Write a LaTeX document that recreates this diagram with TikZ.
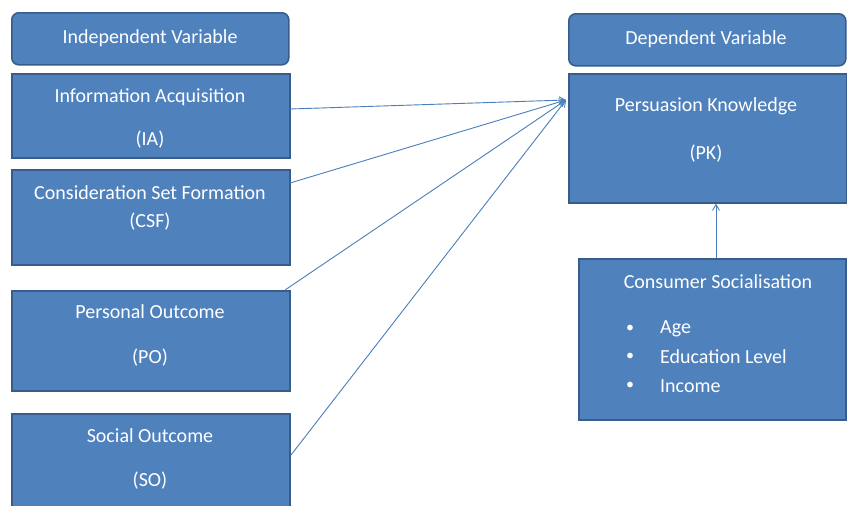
\documentclass[tikz,border=0pt]{standalone}
\usepackage{fontspec}
\setmainfont{Carlito}
\usetikzlibrary{arrows.meta}
\definecolor{boxfill}{HTML}{4F81BD}
\definecolor{boxline}{HTML}{385D8A}
\definecolor{arrowc}{HTML}{4A7EBB}
\tikzset{
  box/.style={draw=boxline, line width=1.6pt, fill=boxfill, anchor=north west, inner sep=0pt},
  rbox/.style={box, rounded corners=7pt},
  lbl/.style={text=white, font=\fontsize{20}{22}\selectfont, inner sep=0pt},
  conn/.style={draw=arrowc, line width=0.9pt, -{Straight Barb[length=6pt,width=7pt]}}
}
\begin{document}
\begin{tikzpicture}[x=1pt,y=-1pt]
\useasboundingbox (0,0) rectangle (847,506);
% left boxes
\node[rbox, minimum width=277pt, minimum height=52pt] (iv) at (11,12) {};
\node[lbl] (ivt) at (150,38) {Independent Variable};
\node[box, minimum width=278pt, minimum height=84pt] (ia) at (11,73) {};
\node[lbl] (iat) at (150,97) {Information Acquisition};
\node[lbl] (iaa) at (150,140) {(IA)};
\node[box, minimum width=278pt, minimum height=95pt] (csf) at (11,169) {};
\node[lbl] (csft) at (150,193) {Consideration Set Formation};
\node[lbl] (csfa) at (150,222) {(CSF)};
\node[box, minimum width=278pt, minimum height=100pt] (po) at (11,290) {};
\node[lbl] (pot) at (150,312) {Personal Outcome};
\node[lbl] (poa) at (150,358) {(PO)};
\node[box, minimum width=278pt, minimum height=95pt] (so) at (11,413) {};
\node[lbl] (sot) at (150,436) {Social Outcome};
\node[lbl] (soa) at (150,481) {(SO)};
% right boxes
\node[rbox, minimum width=277pt, minimum height=52pt] (dv) at (568,13) {};
\node[lbl] (dvt) at (706,39) {Dependent Variable};
\node[box, minimum width=278pt, minimum height=129pt] (pk) at (568,73) {};
\node[lbl] (pkt) at (706,106) {Persuasion Knowledge};
\node[lbl] (pka) at (706,154) {(PK)};
\node[box, minimum width=267pt, minimum height=161pt] (cs) at (578,258) {};
\node[lbl] (cst) at (718,282) {Consumer Socialisation};
\node[lbl, anchor=west, font=\fontsize{16}{18}\selectfont] (b1) at (626,329) {\textbullet};
\node[lbl, anchor=west] (c1) at (660,329) {Age};
\node[lbl, anchor=west, font=\fontsize{16}{18}\selectfont] (b2) at (626,357) {\textbullet};
\node[lbl, anchor=west] (c2) at (660,357) {Education Level};
\node[lbl, anchor=west, font=\fontsize{16}{18}\selectfont] (b3) at (626,386) {\textbullet};
\node[lbl, anchor=west] (c3) at (660,386) {Income};
% connectors
\coordinate (tgt) at (566,100);
\coordinate (iae) at (290,109);
\coordinate (csfe) at (290,183);
\coordinate (poe) at (285,290);
\coordinate (soe) at (291,455);
\draw[conn] (iae) -- (tgt);
\draw[conn] (csfe) -- (tgt);
\draw[conn] (poe) -- (tgt);
\draw[conn] (soe) -- (tgt);
\draw[conn] (cs.north -| 716,0) -- (pk.south -| 716,0);
\end{tikzpicture}
\end{document}
